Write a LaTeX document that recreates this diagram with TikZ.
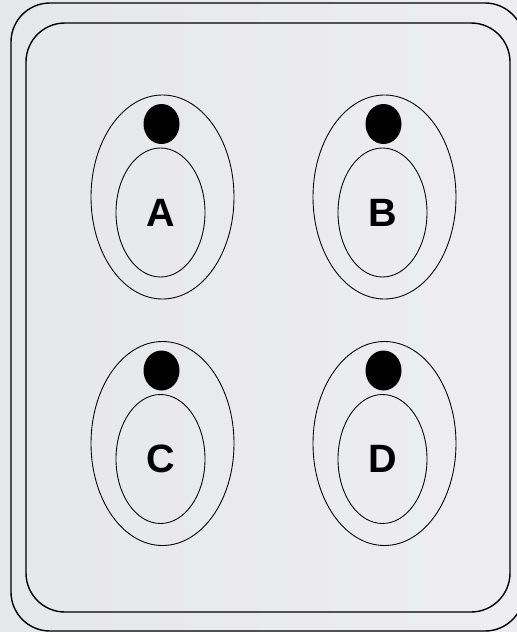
\documentclass[tikz,border=0pt]{standalone}
\usepackage{fontspec}
\setsansfont{Liberation Sans}
\usepackage{tikz}
\usetikzlibrary{calc}
\definecolor{panelgray}{HTML}{E6E7E9}
\definecolor{panellight}{HTML}{EEEEF0}
\def\outerbox{(0.22,-0.06) rectangle (10.48,-12.62)}
\def\innerbox{(0.52,-0.46) rectangle (10.2,-12.24)}
\tikzset{
  ring/.style={draw=black, line width=0.5pt},
  keylabel/.style={font=\sffamily\bfseries\fontsize{22.5}{22.5}\selectfont}
}

\begin{document}
\begin{tikzpicture}
				\useasboundingbox (0,0) rectangle (10.34,-12.64);
				\shade [left color=panelgray, right color=panellight] (0,0) rectangle (10.34,-12.64);
				
				%drawing outlines of the panel
				\draw [line width=0.8pt, rounded corners=0.78cm] \outerbox;
				\draw [line width=0.8pt, rounded corners=0.78cm] \innerbox;
				
				%the four keys
				\foreach \x/\y/\name in {3.25/-3.94/A, 7.69/-3.94/B, 3.25/-8.87/C, 7.69/-8.87/D}{
					\coordinate (key\name) at (\x,\y);
					\draw [ring] (key\name) ellipse (1.43 and 2.04);
					\draw [ring] ($(key\name)+(-0.04,-0.31)$) ellipse (0.89 and 1.29);
					\fill ($(key\name)+(-0.02,1.46)$) ellipse (0.36 and 0.4);
					\node [keylabel] (label\name) at ($(key\name)+(-0.04,-0.31)$) {\name};
				}
			\end{tikzpicture}
\end{document}
